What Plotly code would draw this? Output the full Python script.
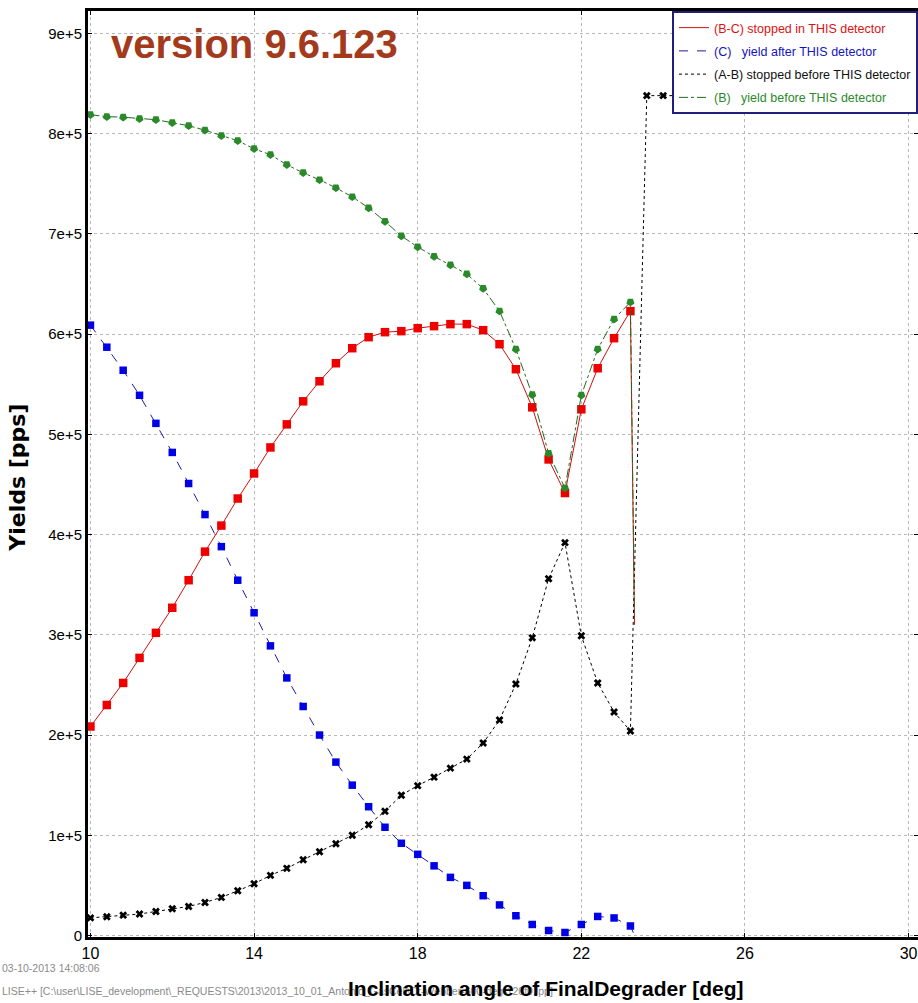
import plotly.graph_objects as go

# ---------------- data ----------------
angle = [10.0, 10.4, 10.8, 11.2, 11.6, 12.0, 12.4, 12.8, 13.2, 13.6,
         14.0, 14.4, 14.8, 15.2, 15.6, 16.0, 16.4, 16.8, 17.2, 17.6,
         18.0, 18.4, 18.8, 19.2, 19.6, 20.0, 20.4, 20.8, 21.2, 21.6,
         22.0, 22.4, 22.8, 23.2]

stopped_in = [208500, 230000, 252000, 277000, 302000, 327000, 354500, 383000, 409000, 436000,
              461000, 487000, 510000, 533000, 553000, 571000, 586000, 597000, 602000, 603000,
              606000, 608000, 610000, 610000, 604000, 590000, 565000, 527000, 475000, 441500,
              525000, 566000, 596000, 623000]

yield_after = [609000, 587000, 564000, 539000, 511000, 482000, 451000, 420000, 388000, 354500,
               322000, 289000, 257000, 228500, 200000, 173000, 150000, 128500, 108000, 92000,
               81000, 69500, 58000, 50000, 39700, 30500, 19700, 11000, 5000, 3000,
               11000, 19000, 17500, 9500]

stopped_before = [17600, 18700, 20300, 21400, 24000, 26700, 29000, 33000, 38000, 44600,
                  51600, 60000, 67000, 75500, 83500, 91500, 100000, 110500, 124000, 140000,
                  149500, 158000, 167000, 176000, 192000, 215000, 251000, 297000, 356000, 392000,
                  299000, 252000, 223000, 204000]

yield_before = [819000, 817000, 816500, 815000, 814000, 811000, 808000, 803500, 798000, 793000,
                785000, 779000, 769000, 761000, 754000, 746000, 737000, 726000, 712500, 698000,
                687000, 677500, 669000, 660000, 645500, 623000, 585000, 539500, 481000, 446500,
                539000, 585000, 615000, 632000]

# end of the detector range (lines only)
end_angle = [23.3]
stopped_in_end = [310000]
yield_after_end = [0]
yield_before_end = [318000]

# stopped-before continues after the cut
before_angle_ext = [23.6, 24.0, 24.4, 24.8]
stopped_before_ext = [838000, 838000, 838000, 838000]

y_ticks = [0, 100000, 200000, 300000, 400000, 500000, 600000, 700000, 800000, 900000]
y_ticktext = ["0", "1e+5", "2e+5", "3e+5", "4e+5", "5e+5", "6e+5", "7e+5", "8e+5", "9e+5"]
x_ticks = [10, 14, 18, 22, 26, 30]

SANS = "Liberation Sans, Arial, sans-serif"

RED_M, RED_L = "#ee0000", "#cc1010"
BLUE_M, BLUE_L = "#0000e6", "#1a1aa0"
BLACK = "#000000"
GREEN_M, GREEN_L = "#2a8a2a", "#1f6a1f"

fig = go.Figure()

def add_series(x_line, y_line, x_mark, y_mark, name, group, lcolor, dash, mcolor, symbol, msize, angle_m=0):
    fig.add_trace(go.Scatter(x=x_line, y=y_line, mode="lines", name=name, legendgroup=group,
                             line=dict(color=lcolor, width=1, dash=dash),
                             hoverinfo="skip"))
    fig.add_trace(go.Scatter(x=x_mark, y=y_mark, mode="markers", showlegend=False, legendgroup=group,
                             marker=dict(color=mcolor, symbol=symbol, size=msize, angle=angle_m,
                                         line=dict(width=0)),
                             hoverinfo="skip"))

add_series(angle + end_angle, stopped_in + stopped_in_end, angle, stopped_in,
           "<span style='color:#dd1111'>(B-C) stopped in THIS detector</span>", "a",
           RED_L, "solid", RED_M, "square", 8.5)
add_series(angle + end_angle, yield_after + yield_after_end, angle, yield_after,
           "<span style='color:#1515c0'>(C)   yield after THIS detector</span>", "b",
           BLUE_L, "dash", BLUE_M, "square", 7.5)
add_series(angle + before_angle_ext, stopped_before + stopped_before_ext,
           angle + before_angle_ext, stopped_before + stopped_before_ext,
           "<span style='color:#111111'>(A-B) stopped before THIS detector</span>", "c",
           BLACK, "dot", BLACK, "x", 7)
add_series(angle + end_angle, yield_before + yield_before_end, angle, yield_before,
           "<span style='color:#2a8a2a'>(B)   yield before THIS detector</span>", "d",
           GREEN_L, "dashdot", GREEN_M, "pentagon", 8.5, 180)

fig.update_layout(
    width=918, height=1003,
    margin=dict(l=88, r=0, t=11, b=66, autoexpand=False),
    paper_bgcolor="white", plot_bgcolor="white",
    font=dict(family=SANS, size=15, color="black"),
    showlegend=True,
    legend=dict(x=0.7036, y=1.0, xanchor="left", yanchor="top",
                bgcolor="white", bordercolor="#20207a", borderwidth=2,
                font=dict(family=SANS, size=12.5),
                itemwidth=30,
                traceorder="grouped", tracegroupgap=4),
    xaxis=dict(range=[9.94, 30.23], tickmode="array", tickvals=x_ticks,
               ticks="inside", ticklen=4, tickcolor="black",
               showline=True, linecolor="black", linewidth=3, mirror="allticks",
               showgrid=True, gridcolor="#b8b8b8", gridwidth=1, griddash="3px,3px",
               zeroline=False, tickfont=dict(family=SANS, size=16)),
    yaxis=dict(range=[-1500, 922450], tickmode="array", tickvals=y_ticks, ticktext=y_ticktext,
               ticks="inside", ticklen=4, tickcolor="black",
               showline=True, linecolor="black", linewidth=3, mirror="allticks",
               showgrid=True, gridcolor="#b8b8b8", gridwidth=1, griddash="dot",
               zeroline=False, tickfont=dict(family=SANS, size=15)),
)

annotations = [
    dict(text="03-10-2013 14:08:06", x=-0.106, y=-0.0335, xref="paper", yref="paper",
         xanchor="left", yanchor="middle", showarrow=False,
         font=dict(family=SANS, size=10.5, color="#8a8a8a")),
    dict(text="LISE++ [C:\\user\\LISE_development\\_REQUESTS\\2013\\2013_10_01_Antonio_GasCell\\Cr-Webber-600-deg-120f0.lpp]",
         x=-0.106, y=-0.0585, xref="paper", yref="paper",
         xanchor="left", yanchor="middle", showarrow=False,
         font=dict(family=SANS, size=10.5, color="#8a8a8a")),
    dict(text="<b>Inclination angle of FinalDegrader [deg]</b>", x=0.552, y=-0.056,
         xref="paper", yref="paper", xanchor="center", yanchor="middle", showarrow=False,
         font=dict(family=SANS, size=21, color="black")),
    dict(text="<b>Yields [pps]</b>", x=-0.0843, y=0.496, xref="paper", yref="paper",
         xanchor="center", yanchor="middle", textangle=-90, showarrow=False,
         font=dict(family="DejaVu Sans, sans-serif", size=22, color="black")),
    dict(text="<b>version 9.6.123</b>", x=0.201, y=0.964, xref="paper", yref="paper",
         xanchor="center", yanchor="middle", showarrow=False,
         font=dict(family=SANS, size=40, color="#a33a1c")),
]
fig.update_layout(annotations=annotations)

fig.write_html("out.html")
